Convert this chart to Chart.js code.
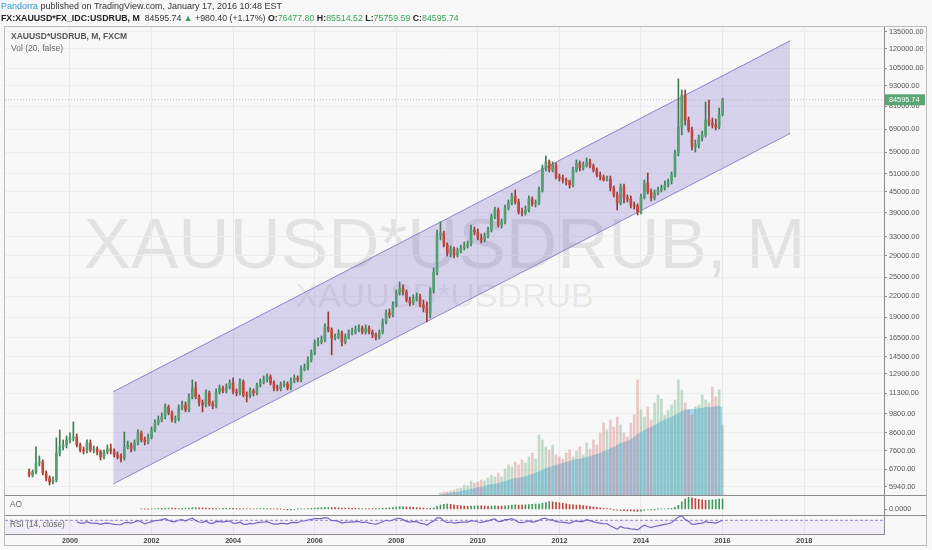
<!DOCTYPE html>
<html>
<head>
<meta charset="utf-8">
<title>XAUUSD*USDRUB, M</title>
<script src="https://cdn.jsdelivr.net/npm/chart.js@4.4.1/dist/chart.umd.min.js"></script>
<style>
  html, body { margin:0; padding:0; background:#f8f8f8; }
  #wrap { position:relative; width:932px; height:550px; overflow:hidden; font-family:"Liberation Sans", Arial, sans-serif; }
  #c { position:absolute; left:0; top:0; }
  .txt { position:absolute; white-space:nowrap; }
  .wm { position:absolute; left:5px; width:879px; text-align:center; color:rgba(0,0,0,0.085); white-space:nowrap; }
  #wm1 { top:209px; font-size:71px; line-height:70px; }
  #wm2 { top:278px; font-size:34px; line-height:34px; }
  #frame { position:absolute; left:4px; top:26px; width:921px; height:518px; border:1px solid #bcbcbc; pointer-events:none; }
  #h1 { left:1px; top:1px; font-size:9px; line-height:11px; color:#333; }
  #h1 .user { color:#2b9ad6; }
  #h2 { left:1px; top:13px; font-size:8.8px; line-height:11px; color:#333; }
  #h2 b { font-weight:bold; color:#222; }
  .g { color:#37a35a; }
  #lg1 { left:11px; top:31px; font-size:8.5px; line-height:11px; color:#555; font-weight:bold; }
  #lg2 { left:11px; top:43px; font-size:8.5px; line-height:11px; color:#666; }
  #lgAO { left:10px; top:499px; font-size:8.3px; line-height:11px; color:#666; }
  #lgRSI { left:10px; top:518.5px; font-size:8.3px; line-height:11px; color:#666; }
</style>
</head>
<body>
<div id="wrap">
  <div class="wm" id="wm1">XAUUSD*USDRUB, M</div>
  <div class="wm" id="wm2">XAUUSD*USDRUB</div>
  <canvas id="c" width="932" height="550"></canvas>
  <div id="frame"></div>
  <div class="txt" id="h1"><span class="user">Pandorra</span> published on TradingView.com, January 17, 2016 10:48 EST</div>
  <div class="txt" id="h2"><b>FX:XAUUSD*FX_IDC:USDRUB, M</b>&nbsp; 84595.74 <span class="g">&#9650;</span> +980.40 (+1.17%) <b>O:</b><span class="g">76477.80</span> <b>H:</b><span class="g">85514.52</span> <b>L:</b><span class="g">75759.59</span> <b>C:</b><span class="g">84595.74</span></div>
  <div class="txt" id="lg1">XAUUSD*USDRUB, M, FXCM</div>
  <div class="txt" id="lg2">Vol (20, false)</div>
  <div class="txt" id="lgAO">AO</div>
  <div class="txt" id="lgRSI">RSI (14, close)</div>
</div>
<script>
// ---------- DATA (monthly candles, first = Jan 1999) ----------
const startYear = 1999;
const yearTicks = [2000, 2002, 2004, 2006, 2008, 2010, 2012, 2014, 2016, 2018];
const priceTicks = [135000, 120000, 105000, 93000, 81000, 69000, 59000, 51000, 45000, 39000, 33000, 29000,
  25000, 22000, 19000, 16500, 14500, 12900, 11300, 9800, 8600, 7600, 6700, 5940];

const open = [
  6578, 6444, 6578, 6997, 7045, 6533, 6313, 6141, 6226, 7494,
  7809, 7917, 8193, 8306, 8363, 7917, 7650, 7598, 8026, 7650,
  7703, 7546, 7291, 7546, 7703, 7598, 7392, 7291, 7241, 7809,
  7917, 7703, 8026, 8596, 8193, 8081, 8363, 8775, 9208, 9399,
  9594, 10278, 9865, 9399, 9464, 10208, 10420, 10070, 11008, 11710,
  11008, 10564, 10420, 11314, 10492, 10349, 11392, 11710, 11471, 11787,
  12115, 11392, 11314, 12201, 11160, 11084, 11471, 11314, 11950, 12201,
  12370, 12625, 12115, 11710, 11630, 11950, 12032, 11710, 12285, 12541,
  12370, 13341, 13433, 14190, 14893, 15947, 16057, 16280, 17794, 17430,
  16505, 16610, 17071, 16057, 16610, 17071, 17192, 17430, 17671, 17192,
  17671, 17192, 16840, 16610, 17192, 18415, 19587, 19320, 20690, 22466,
  23257, 22627, 21420, 20976, 21716, 21858, 20690, 20269, 19587, 22940,
  25952, 33450, 33912, 31230, 29564, 30388, 29160, 29974, 30598, 31016,
  31446, 34620, 34148, 32767, 32320, 33221, 34620, 37847, 39710, 35830,
  36575, 40262, 41668, 43719, 41950, 39168, 38900, 39710, 42823, 41383,
  41668, 45550, 52973, 55207, 52250, 54080, 49802, 49463, 48790, 48457,
  47140, 52250, 54826, 52973, 54080, 55207, 53711, 52250, 50490, 49802,
  48790, 49124, 46180, 44020, 41668, 46498, 43120, 42823, 41100, 40820,
  39168, 43420, 47796, 44928, 43120, 44630, 45550, 46180, 47140, 48457,
  50490, 58724, 70190, 87430, 73650, 68760, 61191, 62040, 65087, 66440,
  73650, 72150, 71160, 70190, 76477.80
];
const high = [
  6715, 6669, 7809, 7341, 7142, 6623, 6400, 6356, 8306, 8775,
  8193, 8421, 8596, 9271, 8537, 8026, 7809, 8193, 8193, 7863,
  7809, 7650, 7650, 7917, 7971, 7703, 7546, 7443, 8655, 8137,
  8026, 8193, 8775, 8715, 8363, 8537, 8958, 9399, 9661, 9865,
  10492, 10420, 10001, 9661, 10420, 10706, 10633, 11237, 12370, 12201,
  11160, 10780, 11550, 11471, 10706, 11630, 11950, 11868, 12032, 12370,
  12541, 11630, 12455, 12370, 11392, 11710, 11630, 12115, 12455, 12712,
  12888, 12800, 12285, 11950, 12201, 12285, 12201, 12541, 12800, 12712,
  13616, 13804, 14489, 15200, 16280, 16505, 16725, 18164, 19727, 17671,
  16956, 17430, 17311, 16956, 17430, 17671, 17917, 18040, 17917, 18040,
  17917, 17430, 17071, 17430, 18799, 20000, 20138, 21128, 22940, 24226,
  23740, 22940, 21858, 22160, 22466, 22313, 21420, 21128, 23257, 26678,
  34620, 36575, 34385, 31661, 31016, 30804, 30598, 31230, 31879, 32099,
  35830, 35341, 34859, 33681, 33912, 35341, 38634, 40540, 40262, 37336,
  41100, 42530, 44630, 45550, 42823, 40262, 40820, 43719, 43420, 42530,
  46498, 54080, 57524, 55970, 55207, 54826, 50837, 50490, 49463, 48790,
  53340, 55970, 55588, 55207, 56744, 56354, 54453, 52973, 51537, 50490,
  50145, 50145, 46817, 44928, 47464, 47464, 44020, 43719, 41950, 41383,
  44321, 48790, 51185, 45863, 45550, 46498, 47140, 48457, 49124, 51537,
  59940, 97568, 90480, 90480, 75180, 70190, 64200, 66440, 68287, 83330,
  84480, 74669, 74160, 79970, 85514.52
];
const low = [
  6356, 6356, 6488, 6854, 6444, 6184, 6016, 6058, 6141, 7341,
  7650, 7756, 8026, 8137, 7809, 7546, 7443, 7494, 7546, 7494,
  7392, 7142, 7192, 7443, 7443, 7291, 7192, 7045, 7142, 7703,
  7546, 7598, 7917, 8081, 7917, 7971, 8249, 8655, 9082, 9271,
  9464, 9727, 9271, 9208, 9335, 10070, 9933, 9933, 10854, 10854,
  10349, 9933, 10278, 10349, 10139, 10208, 11237, 11314, 11314, 11630,
  11237, 11084, 11160, 11008, 10633, 10932, 11084, 11160, 11787, 12032,
  12201, 11950, 11471, 11471, 11471, 11787, 11550, 11550, 12115, 12201,
  12201, 13159, 13250, 13996, 14690, 15622, 15839, 16057, 17192, 14690,
  16280, 16392, 15622, 15839, 16392, 16840, 16956, 17192, 16956, 16956,
  16956, 16505, 16280, 16392, 16956, 18164, 18927, 19057, 20408, 22160,
  22160, 21128, 20549, 20690, 21274, 20408, 19727, 18415, 18927, 22466,
  25420, 32320, 30804, 28961, 28763, 28566, 28763, 29564, 30180, 30598,
  31016, 33450, 32320, 31661, 31879, 32767, 34148, 37336, 35341, 35100,
  36077, 39710, 41100, 41383, 38634, 38108, 38370, 39168, 40820, 40540,
  41100, 44928, 51893, 51537, 51537, 49124, 48457, 47796, 47140, 46180,
  46498, 51537, 51893, 52250, 53340, 52973, 51537, 49802, 48790, 48457,
  48457, 45238, 43420, 39710, 41100, 41668, 41950, 40262, 39983, 38370,
  38634, 42823, 44321, 42240, 42530, 44020, 44928, 45550, 46498, 47464,
  49802, 57524, 66440, 71160, 67800, 59940, 59125, 60772, 63756, 65530,
  70673, 69713, 68760, 69236, 75759.59
];
const close = [
  6444, 6578, 6997, 7045, 6533, 6313, 6141, 6226, 7494, 7809,
  7917, 8193, 8306, 8363, 7917, 7650, 7598, 8026, 7650, 7703,
  7546, 7291, 7546, 7703, 7598, 7392, 7291, 7241, 7809, 7917,
  7703, 8026, 8596, 8193, 8081, 8363, 8775, 9208, 9399, 9594,
  10278, 9865, 9399, 9464, 10208, 10420, 10070, 11008, 11710, 11008,
  10564, 10420, 11314, 10492, 10349, 11392, 11710, 11471, 11787, 12115,
  11392, 11314, 12201, 11160, 11084, 11471, 11314, 11950, 12201, 12370,
  12625, 12115, 11710, 11630, 11950, 12032, 11710, 12285, 12541, 12370,
  13341, 13433, 14190, 14893, 15947, 16057, 16280, 17794, 17430, 16505,
  16610, 17071, 16057, 16610, 17071, 17192, 17430, 17671, 17192, 17671,
  17192, 16840, 16610, 17192, 18415, 19587, 19320, 20690, 22466, 23257,
  22627, 21420, 20976, 21716, 21858, 20690, 20269, 19587, 22940, 25952,
  33450, 33912, 31230, 29564, 30388, 29160, 29974, 30598, 31016, 31446,
  34620, 34148, 32767, 32320, 33221, 34620, 37847, 39710, 35830, 36575,
  40262, 41668, 43719, 41950, 39168, 38900, 39710, 42823, 41383, 41668,
  45550, 52973, 55207, 52250, 54080, 49802, 49463, 48790, 48457, 47140,
  52250, 54826, 52973, 54080, 55207, 53711, 52250, 50490, 49802, 48790,
  49124, 46180, 44020, 41668, 46498, 43120, 42823, 41100, 40820, 39168,
  43420, 47796, 44928, 43120, 44630, 45550, 46180, 47140, 48457, 50490,
  58724, 70190, 87430, 73650, 68760, 61191, 62040, 65087, 66440, 73650,
  72150, 71160, 70190, 76477.80, 84595.74
];
// Volume (FXCM, from mid-2009) and its 20-period average, arbitrary units
const volume = [
  null, null, null, null, null, null, null, null, null, null,
  null, null, null, null, null, null, null, null, null, null,
  null, null, null, null, null, null, null, null, null, null,
  null, null, null, null, null, null, null, null, null, null,
  null, null, null, null, null, null, null, null, null, null,
  null, null, null, null, null, null, null, null, null, null,
  null, null, null, null, null, null, null, null, null, null,
  null, null, null, null, null, null, null, null, null, null,
  null, null, null, null, null, null, null, null, null, null,
  null, null, null, null, null, null, null, null, null, null,
  null, null, null, null, null, null, null, null, null, null,
  null, null, null, null, null, null, null, null, null, null,
  null, 20, 30, 30, 40, 50, 60, 70, 100, 90,
  140, 120, 130, 150, 140, 170, 200, 180, 220, 180,
  260, 300, 280, 330, 300, 350, 320, 380, 420, 360,
  600, 550, 480, 450, 500, 400, 380, 360, 420, 450,
  380, 440, 480, 400, 520, 460, 550, 500, 620, 720,
  650, 750, 680, 780, 700, 620, 580, 720, 800, 1150,
  850, 780, 880, 750, 920, 1000, 960, 800, 850, 900,
  950, 1150, 1050, 920, 850, 800, 880, 900, 1000, 950,
  920, 1080, 980, 1050, 700
];
const volumeMA = [
  null, null, null, null, null, null, null, null, null, null,
  null, null, null, null, null, null, null, null, null, null,
  null, null, null, null, null, null, null, null, null, null,
  null, null, null, null, null, null, null, null, null, null,
  null, null, null, null, null, null, null, null, null, null,
  null, null, null, null, null, null, null, null, null, null,
  null, null, null, null, null, null, null, null, null, null,
  null, null, null, null, null, null, null, null, null, null,
  null, null, null, null, null, null, null, null, null, null,
  null, null, null, null, null, null, null, null, null, null,
  null, null, null, null, null, null, null, null, null, null,
  null, null, null, null, null, null, null, null, null, null,
  null, 10, 10, 20, 20, 30, 30, 40, 50, 50,
  60, 70, 80, 80, 90, 100, 110, 110, 120, 130,
  140, 150, 160, 170, 170, 180, 190, 200, 210, 220,
  240, 250, 270, 280, 290, 300, 310, 320, 330, 340,
  350, 360, 360, 370, 380, 390, 400, 410, 420, 440,
  450, 470, 480, 500, 520, 530, 540, 560, 580, 610,
  630, 650, 670, 680, 700, 720, 740, 750, 770, 780,
  800, 820, 840, 850, 860, 860, 860, 870, 870, 880,
  880, 880, 890, 890, 880
];
// Awesome Oscillator
const ao = [
  null, null, null, null, null, null, null, null, null, null,
  null, null, null, null, null, null, null, null, null, null,
  null, null, null, null, null, null, null, null, null, null,
  null, null, null, 300, 250, 200, 300, 500, 700, 900,
  1100, 1200, 1100, 900, 800, 900, 1100, 1300, 1600, 1700,
  1500, 1300, 1100, 1000, 900, 800, 800, 900, 1000, 1000,
  900, 700, 600, 600, 500, 400, 400, 500, 600, 700,
  700, 600, 400, 200, 100, 0, -100, -100, 0, 100,
  300, 500, 700, 900, 1200, 1500, 1700, 1900, 2000, 1800,
  1600, 1500, 1300, 1200, 1100, 1000, 900, 900, 800, 800,
  700, 600, 600, 700, 900, 1200, 1500, 1800, 2200, 2600,
  2700, 2500, 2200, 1900, 1700, 1500, 1200, 800, 900, 1500,
  3000, 4200, 5000, 5300, 5000, 4500, 4000, 3500, 3200, 3000,
  3100, 3300, 3500, 3400, 3200, 3000, 3100, 3400, 3300, 3200,
  3400, 3700, 4100, 4400, 4300, 4200, 4500, 4800, 5000, 5100,
  5300, 6000, 6800, 7600, 7400, 7000, 6400, 6000, 5400, 4800,
  4500, 4300, 4100, 3800, 3400, 2900, 2500, 2000, 1500, 1000,
  600, 200, -300, -900, -1200, -1400, -1500, -1700, -1900, -2000,
  -1800, -1200, -600, -300, -100, 100, 300, 400, 600, 900,
  2000, 4000, 7500, 10500, 12000, 11500, 10800, 10000, 9400, 9000,
  9200, 9500, 9800, 10100, 10300
];
// RSI (14, close)
const rsi = [
  null, null, null, null, null, null, null, null, null, null,
  null, null, null, null, 66, 62, 62, 66, 62, 62,
  61, 58, 61, 62, 60, 58, 57, 57, 63, 64,
  62, 65, 69, 65, 60, 63, 66, 69, 70, 72,
  75, 70, 66, 66, 71, 72, 68, 73, 76, 69,
  65, 64, 68, 62, 61, 66, 67, 65, 67, 68,
  62, 61, 65, 59, 58, 61, 60, 63, 64, 65,
  66, 62, 59, 59, 61, 61, 59, 63, 64, 63,
  68, 68, 71, 73, 75, 75, 75, 78, 76, 69,
  69, 67, 62, 64, 65, 65, 66, 66, 63, 65,
  62, 60, 59, 62, 66, 70, 68, 71, 75, 76,
  72, 67, 65, 66, 66, 62, 60, 56, 63, 68,
  77, 77, 68, 63, 65, 62, 63, 64, 65, 65,
  69, 68, 65, 64, 66, 68, 72, 74, 66, 67,
  72, 73, 75, 70, 64, 63, 65, 68, 65, 66,
  70, 75, 76, 71, 72, 66, 65, 64, 63, 61,
  66, 68, 66, 67, 72, 69, 66, 63, 62, 60,
  60, 54, 49, 44, 52, 48, 47, 45, 44, 42,
  50, 56, 52, 49, 52, 54, 56, 58, 60, 63,
  72, 79, 84, 72, 67, 58, 59, 61, 62, 66,
  64, 63, 62, 66, 70
];
const rsiBands = [70, 30];
// Regression channel drawn on the chart (anchor dates in years, prices)
const channelX = [2001.06, 2017.66];
const channelUpper = [11406, 126900];
const channelLower = [6056, 67200];

// ---------- CHART ----------
const xMin = 1998.407, xMax = 2019.958;
const monthX = i => startYear + i / 12;
const lastClose = close[close.length - 1];

const UP = '#52a06f', DOWN = '#c2473d';
const UP_W = '#3f7c56', DOWN_W = '#97392f';
const isUp = close.map((c, i) => c >= open[i]);

const bodies = close.map((c, i) => ({ x: monthX(i), y: [open[i], c] }));
const wicks = close.map((c, i) => ({ x: monthX(i), y: [low[i], high[i]] }));
const volIdx = volume.map((v, i) => i).filter(i => volume[i] !== null);
const volData = volIdx.map(i => ({ x: monthX(i), y: volume[i] }));
const volColors = volIdx.map(i => isUp[i] ? 'rgba(82,160,111,0.33)' : 'rgba(194,71,61,0.28)');
const maData = volIdx.map(i => ({ x: monthX(i), y: volumeMA[i] }));
const aoIdx = ao.map((v, i) => i).filter(i => ao[i] !== null);
const aoData = aoIdx.map(i => ({ x: monthX(i), y: ao[i] }));
const aoColors = aoIdx.map((i, k) => (k === 0 || ao[i] >= ao[aoIdx[k - 1]]) ? '#3f9a5e' : '#c0463c');
const rsiData = rsi.map((v, i) => ({ x: monthX(i), y: v }));

Chart.defaults.font.family = '"Liberation Sans", Arial, sans-serif';

const panePlugin = {
  id: 'panes',
  afterDraw(chart) {
    const ctx = chart.ctx, a = chart.chartArea;
    ctx.save();
    ctx.strokeStyle = '#8c8c8c';
    ctx.lineWidth = 1;
    [chart.scales.ao.top, chart.scales.rsi.top].forEach(t => {
      const y = Math.round(t) + 0.5;
      ctx.beginPath(); ctx.moveTo(a.left, y); ctx.lineTo(chart.width - 5, y); ctx.stroke();
    });
    const ys = chart.scales.y;
    const py = ys.getPixelForValue(lastClose);
    ctx.fillStyle = '#5aa574';
    ctx.fillRect(ys.left + 1, py - 5.5, 40, 11);
    ctx.fillStyle = '#ffffff';
    ctx.font = '7.3px "Liberation Sans", Arial, sans-serif';
    ctx.textBaseline = 'middle';
    ctx.textAlign = 'left';
    ctx.fillText(lastClose.toFixed(2), ys.left + 5, py + 0.5);
    ctx.restore();
  }
};

const fixW = s => { s.width = 43; };

new Chart(document.getElementById('c'), {
  type: 'bar',
  data: {
    datasets: [
      { type: 'bar', label: 'body', data: bodies, yAxisID: 'y', grouped: false, barThickness: 2, minBarLength: 1,
        backgroundColor: isUp.map(u => u ? UP : DOWN), borderWidth: 0, order: 1 },
      { type: 'bar', label: 'wick', data: wicks, yAxisID: 'y', grouped: false, barThickness: 1,
        backgroundColor: isUp.map(u => u ? UP_W : DOWN_W), borderWidth: 0, order: 2 },
      { type: 'line', label: 'chanUp', data: channelX.map((x, k) => ({ x, y: channelUpper[k] })), yAxisID: 'y',
        borderColor: '#8f84c9', borderWidth: 1, pointRadius: 0, fill: false, order: 20 },
      { type: 'line', label: 'chanLo', data: channelX.map((x, k) => ({ x, y: channelLower[k] })), yAxisID: 'y',
        borderColor: '#8f84c9', borderWidth: 1, pointRadius: 0, fill: '-1', backgroundColor: 'rgba(120,100,200,0.26)', order: 19 },
      { type: 'line', label: 'last', data: [{ x: xMin, y: lastClose }, { x: xMax, y: lastClose }], yAxisID: 'y',
        borderColor: '#b5b5b5', borderWidth: 1, borderDash: [1, 2], pointRadius: 0, fill: false, order: 15 },
      { type: 'bar', label: 'vol', data: volData, yAxisID: 'vol', grouped: false, barThickness: 2,
        backgroundColor: volColors, borderWidth: 0, order: 30 },
      { type: 'line', label: 'volMA', data: maData, yAxisID: 'vol', borderWidth: 0, pointRadius: 0,
        fill: 'origin', backgroundColor: 'rgba(60,170,230,0.42)', order: 31 },
      { type: 'bar', label: 'ao', data: aoData, yAxisID: 'ao', grouped: false, barThickness: 1,
        backgroundColor: aoColors, borderWidth: 0, order: 3 },
      { type: 'line', label: 'rsi70', data: [{ x: xMin, y: rsiBands[0] }, { x: xMax, y: rsiBands[0] }], yAxisID: 'rsi',
        borderColor: '#9385cf', borderWidth: 1, borderDash: [3, 2], pointRadius: 0, fill: false, order: 6 },
      { type: 'line', label: 'rsi30', data: [{ x: xMin, y: rsiBands[1] }, { x: xMax, y: rsiBands[1] }], yAxisID: 'rsi',
        borderWidth: 0, pointRadius: 0, fill: '-1', backgroundColor: 'rgba(150,120,230,0.08)', order: 7 },
      { type: 'line', label: 'rsi', data: rsiData, yAxisID: 'rsi', borderColor: '#7565c9', borderWidth: 1.2,
        pointRadius: 0, fill: false, spanGaps: false, order: 4 }
    ]
  },
  options: {
    responsive: false,
    animation: false,
    devicePixelRatio: 1,
    layout: { padding: { top: 27, left: 5, right: 5, bottom: 4 } },
    plugins: { legend: { display: false }, tooltip: { enabled: false } },
    scales: {
      x: {
        type: 'linear', min: xMin, max: xMax, offset: false, position: 'bottom',
        afterBuildTicks: s => { s.ticks = yearTicks.map(v => ({ value: v })); },
        afterFit: s => { s.height = 12; },
        ticks: { autoSkip: false, maxRotation: 0, padding: 3, color: '#444', font: { size: 7.2, weight: 'bold' },
          callback: v => String(v) },
        grid: { color: '#e9e9e9', drawTicks: false, offset: false },
        border: { display: true, color: '#8c8c8c' }
      },
      y: {
        type: 'logarithmic', position: 'right', stack: 'panes', stackWeight: 468,
        min: 5615, max: 139425, bounds: 'data',
        afterBuildTicks: s => { s.ticks = priceTicks.map(v => ({ value: v })); },
        afterFit: fixW,
        ticks: { autoSkip: false, padding: 2, color: '#555', font: { size: 7.3 },
          callback: v => Number(v).toFixed(2) },
        grid: { color: '#eeeeee', tickColor: '#8c8c8c', tickLength: 3 },
        border: { display: true, color: '#8c8c8c' }
      },
      ao: {
        type: 'linear', position: 'right', stack: 'panes', stackWeight: 19.5,
        min: -5200, max: 14300, bounds: 'data',
        afterBuildTicks: s => { s.ticks = [{ value: 0 }]; },
        afterFit: fixW,
        ticks: { autoSkip: false, padding: 2, color: '#555', font: { size: 7.3 },
          callback: v => Number(v).toFixed(4) },
        grid: { drawOnChartArea: false, tickColor: '#8c8c8c', tickLength: 3 },
        border: { display: true, color: '#8c8c8c' }
      },
      rsi: {
        type: 'linear', position: 'right', stack: 'panes', stackWeight: 19.5,
        min: 30, max: 87, bounds: 'data',
        afterBuildTicks: s => { s.ticks = []; },
        afterFit: fixW,
        ticks: { display: false },
        grid: { display: false },
        border: { display: true, color: '#8c8c8c' }
      },
      vol: {
        type: 'linear', display: false, min: -390, max: 4680
      }
    }
  },
  plugins: [panePlugin]
});
</script>
</body>
</html>
